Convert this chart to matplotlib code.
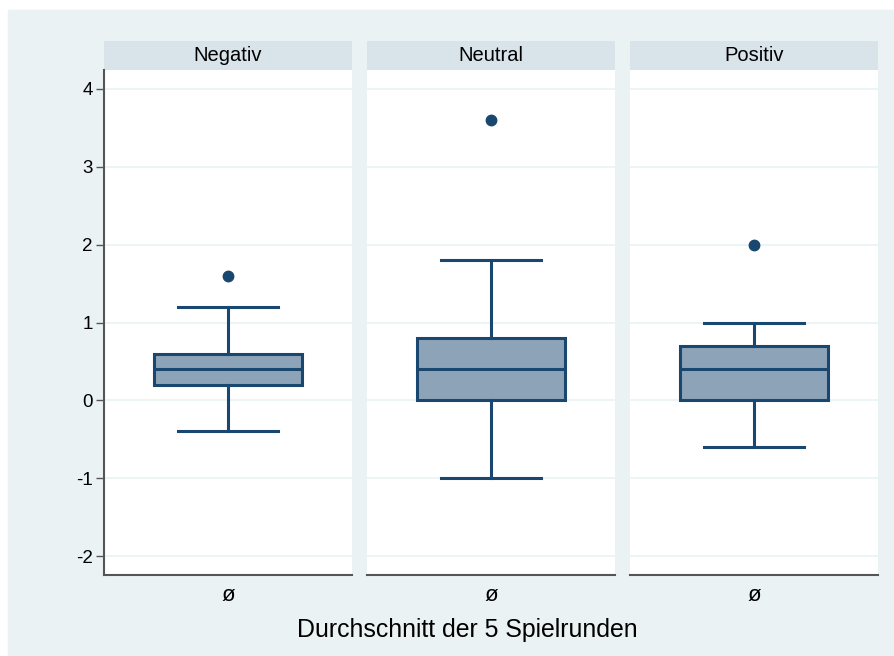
import matplotlib.pyplot as plt
from matplotlib.patches import Rectangle

# Kennwerte je Gruppe (Durchschnitt der 5 Spielrunden)
groups = ["Negativ", "Neutral", "Positiv"]
q1 = [0.2, 0.0, 0.0]
median = [0.4, 0.4, 0.4]
q3 = [0.6, 0.8, 0.7]
whis_lo = [-0.4, -1.0, -0.6]
whis_hi = [1.2, 1.8, 1.0]
outliers = [[1.6], [3.6], [2.0]]
yticks = [-2, -1, 0, 1, 2, 3, 4]
xlabel = "Durchschnitt der 5 Spielrunden"

navy = "#1A476F"
fill = "#8DA3B8"
bg = "#EAF2F3"
strip = "#D8E4EA"
axis_col = "#555555"

plt.rcParams["font.family"] = ["Liberation Sans", "DejaVu Sans"]

W, H = 895, 656
fig = plt.figure(figsize=(W / 100, H / 100), dpi=100, facecolor="white")
fig.add_artist(Rectangle((8 / W, 0), 1 - 8 / W, 1 - 10 / H,
                         transform=fig.transFigure, color=bg, zorder=-10))

lefts = [104, 367, 630]
pw, bottom, ph = 248, H - 575, 505
strip_h = 29

for i, name in enumerate(groups):
    ax = fig.add_axes([lefts[i] / W, bottom / H, pw / W, ph / H])
    ax.set_facecolor("white")
    stats = [dict(med=median[i], q1=q1[i], q3=q3[i],
                  whislo=whis_lo[i], whishi=whis_hi[i],
                  fliers=outliers[i], label="ø")]
    ax.bxp(stats, positions=[0], widths=0.6, capwidths=0.4,
           patch_artist=True,
           boxprops=dict(facecolor=fill, edgecolor=navy, linewidth=2.2),
           medianprops=dict(color=navy, linewidth=2.2),
           whiskerprops=dict(color=navy, linewidth=2.2),
           capprops=dict(color=navy, linewidth=2.2),
           flierprops=dict(marker="o", markerfacecolor=navy,
                           markeredgecolor=navy, markersize=7.5))
    ax.set_xlim(-0.5, 0.5)
    ax.set_ylim(-2.244, 4.244)
    ax.set_yticks(yticks)
    ax.grid(axis="y", color=bg, linewidth=1.2)
    ax.set_axisbelow(True)
    for s in ["top", "right"]:
        ax.spines[s].set_visible(False)
    ax.spines["bottom"].set_color(axis_col)
    ax.spines["bottom"].set_linewidth(1.5)
    ax.tick_params(axis="x", length=0, labelsize=16, pad=7)
    if i == 0:
        ax.spines["left"].set_color(axis_col)
        ax.spines["left"].set_linewidth(1.5)
        ax.set_yticklabels([str(t) for t in yticks])
        ax.tick_params(axis="y", length=6, width=1, color=axis_col,
                       labelsize=13.5, pad=2)
    else:
        ax.spines["left"].set_visible(False)
        ax.tick_params(axis="y", length=0, labelleft=False)

    # Kopfzeile über jedem Panel
    sh = strip_h / ph
    ax.add_patch(Rectangle((0, 1), 1, sh, transform=ax.transAxes,
                           facecolor=strip, edgecolor="none", clip_on=False))
    ax.text(0.5, 1 + sh / 2, name, transform=ax.transAxes,
            ha="center", va="center", fontsize=14.5)

fig.text(467 / W, 1 - 630 / H, xlabel,
         ha="center", va="center", fontsize=17.9)

fig.savefig("out.png", dpi=100, facecolor=fig.get_facecolor())
